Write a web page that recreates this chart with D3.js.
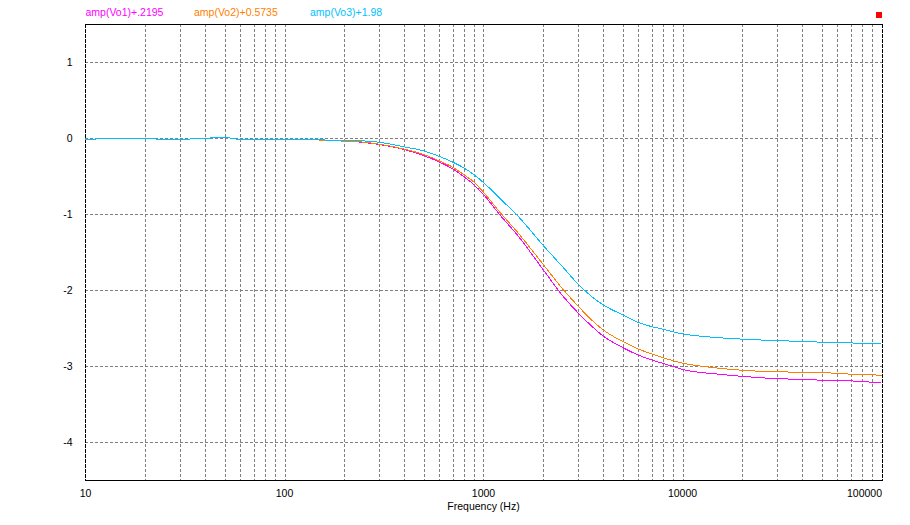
<!DOCTYPE html>
<meta charset="utf-8">
<style>

body {
  margin: 0;
  background: #fff;
  font-family: 'Liberation Sans', Arial, sans-serif;
  font-size: 10.5px;
}

svg {
	display: block;
}

.grid line {
	stroke: #808080;
	stroke-width: 1px;
	stroke-dasharray: 3,2;
	shape-rendering: crispEdges;
}

path.trace {
	fill: none;
	stroke-width: 1px;
	shape-rendering: crispEdges;
}

</style>
<body>

<script src="https://cdnjs.cloudflare.com/ajax/libs/d3/7.8.5/d3.min.js"></script>
<script>

// frequency points (Hz)
var freqs = [10, 15, 20, 25, 30, 35, 40, 45, 50, 55, 60, 80, 100, 150, 200, 250, 300, 400, 500, 600, 700, 800, 900,
             1000, 1200, 1500, 2000, 2500, 3000, 3500, 4000, 5000, 6000, 7000, 8000, 9000,
             10000, 15000, 20000, 30000, 40000, 50000, 60000, 70000, 80000, 100000];

// amp(Vo1)+.2195
var vo1 = [-0.012, 0, 0, -0.012, -0.012, -0.005, -0.005, 0.017, 0.017, 0, -0.012, -0.012, -0.012, -0.02, -0.035, -0.052, -0.08, -0.145, -0.224, -0.31, -0.40, -0.505, -0.614,
           -0.737, -0.995, -1.29, -1.73, -2.07, -2.30, -2.47, -2.60, -2.75, -2.85, -2.915, -2.96, -3.0,
           -3.04, -3.10, -3.13, -3.16, -3.17, -3.18, -3.19, -3.19, -3.20, -3.21];

// amp(Vo2)+0.5735
var vo2 = [-0.012, 0, 0, -0.012, -0.012, -0.005, -0.005, 0.017, 0.017, 0, -0.012, -0.012, -0.012, -0.02, -0.035, -0.048, -0.075, -0.14, -0.21, -0.295, -0.378, -0.479, -0.579,
           -0.707, -0.96, -1.25, -1.66, -1.98, -2.21, -2.39, -2.52, -2.67, -2.77, -2.835, -2.885, -2.925,
           -2.955, -3.02, -3.05, -3.07, -3.075, -3.08, -3.09, -3.10, -3.10, -3.12];

// amp(Vo3)+1.98
var vo3 = [-0.012, 0, 0, -0.012, -0.012, -0.005, -0.005, 0.017, 0.017, 0, -0.012, -0.012, -0.012, -0.018, -0.026, -0.032, -0.05, -0.11, -0.163, -0.235, -0.31, -0.39, -0.48,
           -0.58, -0.78, -1.03, -1.41, -1.69, -1.92, -2.08, -2.19, -2.32, -2.42, -2.475, -2.51, -2.545,
           -2.57, -2.62, -2.64, -2.66, -2.67, -2.68, -2.685, -2.69, -2.695, -2.70];

var seriesNames = ["amp(Vo1)+.2195", "amp(Vo2)+0.5735", "amp(Vo3)+1.98"];
var seriesColors = ["#ff00ff", "#ff8000", "#00bfff"];

var xTicks = [10, 100, 1000, 10000, 100000];
var yTicks = [-4, -3, -2, -1, 0, 1];

drawChart();

function drawChart()
{
    var width = 910,
        height = 525;

    var left = 85, right = 882, top = 24, bottom = 480;

    var svg = d3.select("body")
        .append("svg")
        .attr("width", width)
        .attr("height", height);

    var x = d3.scaleLog()
        .domain([10, 100000])
        .range([left + 0.5, right - 0.5]);

    var y = d3.scaleLinear()
        .domain([-4.5, 1.5])
        .range([bottom + 0.5, top + 0.5]);

    // minor + decade grid positions
    var vgrid = [];
    for (var dec = 10; dec < 100000; dec *= 10) {
        for (var m = 1; m < 10; m++) {
            if (dec * m > 10) vgrid.push(dec * m);
        }
    }

    var grid = svg.append("g").attr("class", "grid");

    grid.selectAll("line.v")
        .data(vgrid)
        .enter().append("line")
        .attr("class", "v")
        .attr("x1", function(d) { return Math.round(x(d)) + 0.5; })
        .attr("x2", function(d) { return Math.round(x(d)) + 0.5; })
        .attr("y1", top)
        .attr("y2", bottom);

    grid.selectAll("line.h")
        .data(yTicks)
        .enter().append("line")
        .attr("class", "h")
        .attr("x1", left)
        .attr("x2", right)
        .attr("y1", function(d) { return Math.round(y(d) - 0.5) + 0.5; })
        .attr("y2", function(d) { return Math.round(y(d) - 0.5) + 0.5; });

    // frame: solid top/bottom, dashed sides
    var frame = svg.append("g")
        .attr("stroke", "#000")
        .attr("shape-rendering", "crispEdges");
    frame.append("line").attr("x1", left).attr("x2", right + 1).attr("y1", top + 0.5).attr("y2", top + 0.5);
    frame.append("line").attr("x1", left).attr("x2", right + 1).attr("y1", bottom + 0.5).attr("y2", bottom + 0.5);
    frame.append("line").attr("x1", left + 0.5).attr("x2", left + 0.5).attr("y1", top).attr("y2", bottom)
        .attr("stroke-dasharray", "4,1");
    frame.append("line").attr("x1", right + 0.5).attr("x2", right + 0.5).attr("y1", top).attr("y2", bottom)
        .attr("stroke-dasharray", "4,1");

    // traces
    var series = [vo1, vo2, vo3];
    var line = d3.line()
        .x(function(d) { return x(d[0]); })
        .y(function(d) { return y(d[1]); })
        .curve(d3.curveMonotoneX);

    svg.append("g").selectAll("path.trace")
        .data(series)
        .enter().append("path")
        .attr("class", "trace")
        .attr("stroke", function(d, i) { return seriesColors[i]; })
        .attr("d", function(vals) {
            return line(freqs.map(function(f, j) { return [f, vals[j]]; }));
        });

    // y tick labels
    svg.append("g").selectAll("text")
        .data(yTicks)
        .enter().append("text")
        .attr("x", 72.5)
        .attr("y", function(d) { return y(d); })
        .attr("dy", "0.35em")
        .attr("text-anchor", "end")
        .attr("fill", "#000")
        .text(function(d) { return d; });

    // x tick labels
    svg.append("g").selectAll("text")
        .data(xTicks)
        .enter().append("text")
        .attr("x", function(d, i) { return i == xTicks.length - 1 ? right : x(d); })
        .attr("y", 496.5)
        .attr("text-anchor", function(d, i) { return i == xTicks.length - 1 ? "end" : "middle"; })
        .attr("fill", "#000")
        .text(function(d) { return d; });

    svg.append("text")
        .attr("x", (left + right) / 2)
        .attr("y", 509.5)
        .attr("text-anchor", "middle")
        .attr("fill", "#000")
        .text("Frequency (Hz)");

    // legend across the top
    var legendX = [85.5, 194, 310];
    svg.append("g").selectAll("text")
        .data(seriesNames)
        .enter().append("text")
        .attr("x", function(d, i) { return legendX[i]; })
        .attr("y", 15.5)
        .attr("fill", function(d, i) { return seriesColors[i]; })
        .text(function(d) { return d; });

    svg.append("rect")
        .attr("x", 876)
        .attr("y", 12)
        .attr("width", 6)
        .attr("height", 6)
        .attr("fill", "#ff0000");
}

</script>

</body>
